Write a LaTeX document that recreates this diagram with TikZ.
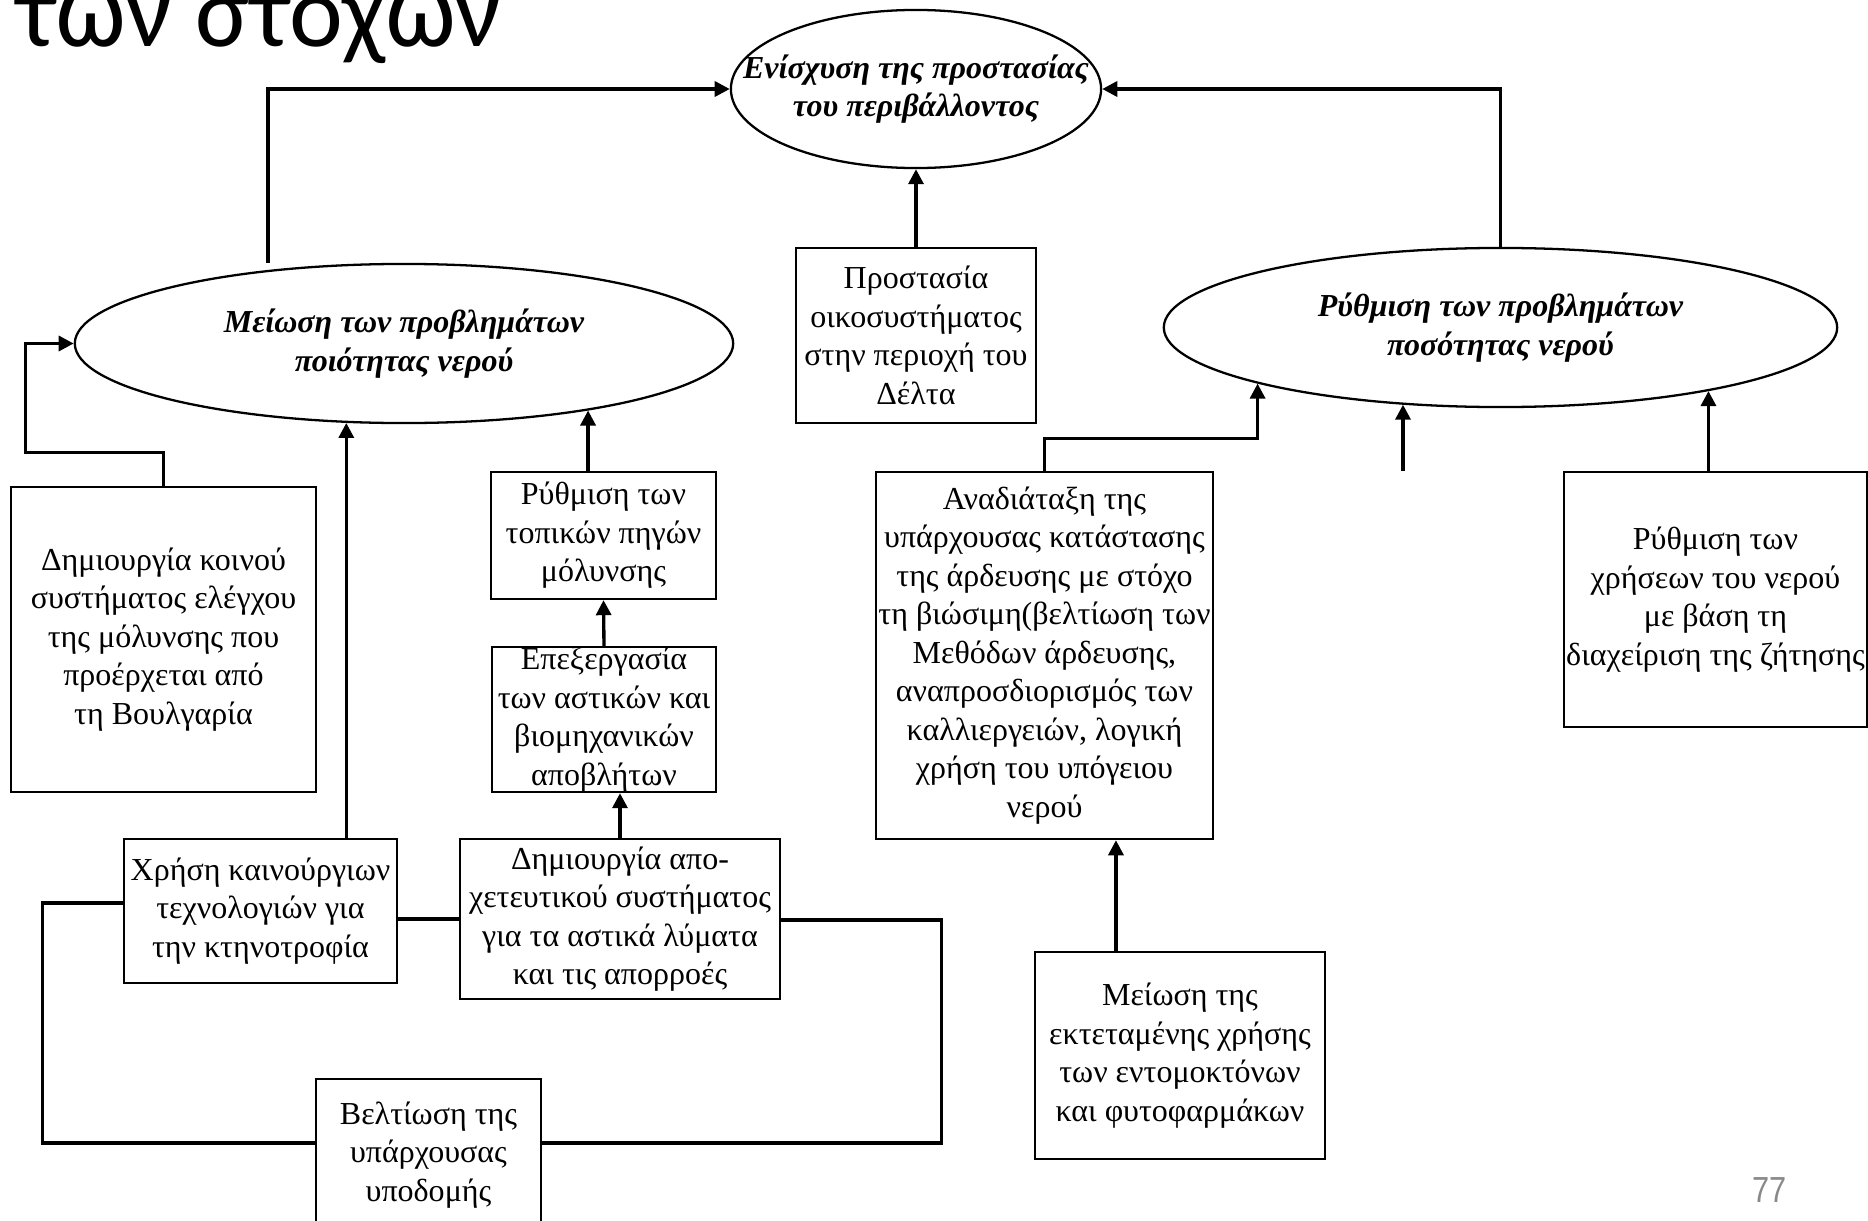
\documentclass[tikz,border=0pt]{standalone}
\usepackage{fontspec}
\setmainfont{Liberation Serif}
\newfontfamily\titlefont{Carlito}
\newfontfamily\pagefont[FakeStretch=0.85]{Liberation Sans}
\usetikzlibrary{arrows.meta,shapes.geometric}
\definecolor{pagegray}{RGB}{137,137,137}

\begin{document}
\begin{tikzpicture}[x=0.01cm,y=-0.01cm,
  every node/.style={font=\fontsize{9.1pt}{10.95pt}\selectfont},
  box/.style={draw, line width=0.65pt, rectangle, inner sep=0pt, align=center},
  goal/.style={draw, line width=0.65pt, ellipse, inner sep=0pt},
  goaltext/.style={align=center, inner sep=0pt,
    font=\fontsize{9.1pt}{10.95pt}\selectfont\bfseries\itshape},
  link/.style={line width=0.95pt},
  arrow/.style={link, -{Triangle[length=0.15cm,width=0.15cm]}},
]
\useasboundingbox (0,0) rectangle (1868,1221);

% heading fragment
\node[anchor=base west, inner sep=0pt,
  font=\titlefont\fontsize{29pt}{34pt}\selectfont] (title) at (16,46) {των στόχων};

% goals
\node[goal, minimum width=3.7cm, minimum height=1.58cm,
  label={[goaltext]center:{Ενίσχυση της προστασίας\\του περιβάλλοντος}}] (E0) at (916,89) {};
\node[goal, minimum width=6.58cm, minimum height=1.59cm,
  label={[goaltext]center:{Μείωση των προβλημάτων\\ποιότητας νερού}}] (Q) at (404,343.5) {};
\node[goal, minimum width=6.73cm, minimum height=1.59cm,
  label={[goaltext]center:{Ρύθμιση των προβλημάτων\\ποσότητας νερού}}] (R) at (1500.5,327.5) {};

% measures
\node[box, minimum width=3.05cm, minimum height=3.05cm] (B1) at (163.5,639.5)
  {Δημιουργία κοινού\\συστήματος ελέγχου\\της μόλυνσης που\\προέρχεται από\\τη Βουλγαρία};
\node[box, minimum width=2.73cm, minimum height=1.44cm] (B2) at (260.5,911)
  {Χρήση καινούργιων\\τεχνολογιών για\\την κτηνοτροφία};
\node[box, minimum width=3.2cm, minimum height=1.6cm] (B3) at (620,919)
  {Δημιουργία απο-\\χετευτικού συστήματος\\για τα αστικά λύματα\\και τις απορροές};
\node[box, minimum width=2.24cm, minimum height=1.45cm] (B4) at (604,719.5)
  {Επεξεργασία\\των αστικών και\\βιομηχανικών\\αποβλήτων};
\node[box, minimum width=2.25cm, minimum height=1.27cm] (B5) at (603.5,535.5)
  {Ρύθμιση των\\τοπικών πηγών\\μόλυνσης};
\node[box, minimum width=2.4cm, minimum height=1.75cm] (B6) at (916,335.5)
  {Προστασία\\οικοσυστήματος\\στην περιοχή του\\Δέλτα};
\node[box, minimum width=3.37cm, minimum height=3.67cm] (B7) at (1044.5,655.5)
  {Αναδιάταξη της\\υπάρχουσας κατάστασης\\της άρδευσης με στόχο\\τη βιώσιμη(βελτίωση των\\Μεθόδων άρδευσης,\\αναπροσδιορισμός των\\καλλιεργειών, λογική\\χρήση του υπόγειου\\νερού};
\node[box, minimum width=2.9cm, minimum height=2.07cm] (B8) at (1180,1055.5)
  {Μείωση της\\εκτεταμένης χρήσης\\των εντομοκτόνων\\και φυτοφαρμάκων};
\node[box, minimum width=3.03cm, minimum height=2.55cm] (B9) at (1715.5,599.5)
  {Ρύθμιση των\\χρήσεων του νερού\\με βάση τη\\διαχείριση της ζήτησης};
\node[box, minimum width=2.25cm, minimum height=1.52cm] (B10) at (428.5,1155)
  {Βελτίωση της\\υπάρχουσας\\υποδομής};

% page number
\node[anchor=base east, inner sep=0pt, text=pagegray,
  font=\pagefont\fontsize{10.3pt}{12pt}\selectfont] (pg) at (1787,1202) {77};

% helper points
\coordinate (qlink) at (268,263);
\coordinate (loose) at (1403,471);
\coordinate (base) at (0,1143);

% links to the main goal
\draw[arrow] (qlink) |- (E0.west);
\draw[arrow] (R.north) |- (E0.east);
\draw[arrow] (B6.north) -- (E0.south);

% water quality branch
\draw[arrow] (B1.north) -- ++(0,-33) -| ([xshift=-0.48cm]Q.west) -- (Q.west);
\draw[arrow] (B2.north -| Q.-126) -- (Q.-126);
\draw[arrow] (B5.north -| Q.-20) -- (Q.-20);
\draw[arrow] (B4.north) -- (B5.south);
\draw[arrow] (B3.north) -- (B3.north |- B4.south);
\draw[link] (B3.west -| B2.east) -- (B3.west);
\draw[link] ([yshift=0.08cm]B2.west) -- ++(-80,0) |- (B10.west |- base);
\draw[link] ([yshift=-0.01cm]B3.east) -- ++(160,0) |- (B10.east |- base);

% water quantity branch
\draw[arrow] (B7.north) -- ++(0,-32) -| (R.-167);
\draw[arrow] (loose) -- (loose |- R.-142);
\draw[arrow] (B9.north -| R.-17) -- (R.-17);
\draw[arrow] ([xshift=-0.64cm]B8.north) -- ([xshift=-0.64cm]B8.north |- B7.south);
\end{tikzpicture}
\end{document}
